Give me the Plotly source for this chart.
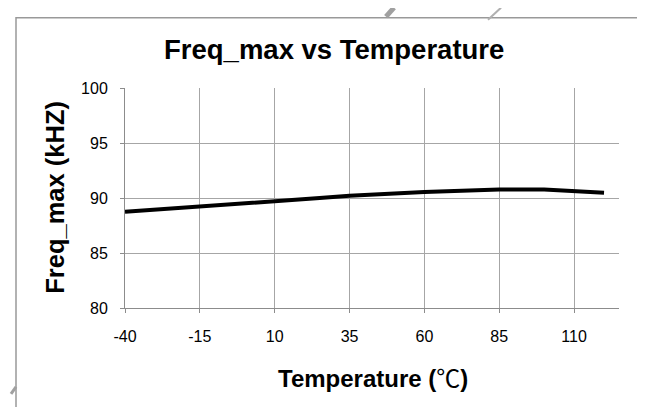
import plotly.graph_objects as go

temperature = [-40, -15, 10, 25, 35, 60, 85, 100, 120]
freq_max = [88.75, 89.2, 89.7, 90.0, 90.2, 90.55, 90.78, 90.78, 90.48]

x_ticks = [-40, -15, 10, 35, 60, 85, 110]
y_ticks = [80, 85, 90, 95, 100]

W, H = 645, 407
L, R, T, B = 117, 34, 79.5, 107
pw, ph = W - L - R, H - T - B

def px(x):
    return (x - L) / pw

def py(y):
    return (H - B - y) / ph

font = "Liberation Sans, Arial, sans-serif"

fig = go.Figure()
fig.add_trace(go.Scatter(
    x=temperature, y=freq_max, mode="lines",
    line=dict(color="black", width=4),
    showlegend=False, hoverinfo="skip",
))

axis_common = dict(
    showgrid=True, gridcolor="#a6a6a6", gridwidth=1,
    showline=True, linecolor="#8c8c8c", linewidth=1,
    ticks="outside", ticklen=4, tickcolor="#8c8c8c",
    tickfont=dict(family=font, size=16, color="black"),
    zeroline=False,
)

x_title = ("<b>Temperature (</b><span style='font-family:\"Noto Sans CJK SC\";"
           "font-weight:normal'>℃</span><b>)</b>")

fig.update_layout(
    width=W, height=H,
    margin=dict(l=L, r=R, t=T, b=B, pad=0),
    paper_bgcolor="white", plot_bgcolor="white",
    xaxis=dict(range=[-40, 125], tickmode="array", tickvals=x_ticks,
               ticktext=[str(v) for v in x_ticks], ticklabelstandoff=10,
               **axis_common),
    yaxis=dict(range=[80, 100], tickmode="array", tickvals=y_ticks,
               ticktext=[str(v) for v in y_ticks], ticklabelstandoff=9,
               **axis_common),
    annotations=[
        dict(text="<b>Freq_max vs Temperature</b>", xref="paper", yref="paper",
             x=px(326), y=py(41), xanchor="center", yanchor="middle",
             showarrow=False, font=dict(family=font, size=27.5, color="black")),
        dict(text=x_title, xref="paper", yref="paper",
             x=px(365), y=py(369), xanchor="center", yanchor="middle",
             showarrow=False, font=dict(family=font, size=24, color="black")),
        dict(text="<b>Freq_max (kHZ)</b>", xref="paper", yref="paper",
             x=px(47), y=py(189.5), xanchor="center", yanchor="middle",
             textangle=-90,
             showarrow=False, font=dict(family=font, size=25.5, color="black")),
    ],
    shapes=[
        dict(type="rect", xref="paper", yref="paper",
             x0=px(8), x1=px(642), y0=py(412), y1=py(9),
             line=dict(color="#999999", width=1.5), layer="below"),
        dict(type="line", xref="paper", yref="paper",
             x0=px(386), x1=px(378), y0=py(-1), y1=py(8),
             line=dict(color="#a0a0a0", width=5)),
        dict(type="line", xref="paper", yref="paper",
             x0=px(493), x1=px(480), y0=py(-1), y1=py(11),
             line=dict(color="#b0b0b0", width=2)),
        dict(type="line", xref="paper", yref="paper",
             x0=px(8), x1=px(3), y0=py(379), y1=py(386),
             line=dict(color="#a0a0a0", width=3)),
    ],
)

fig.write_html("out.html")
